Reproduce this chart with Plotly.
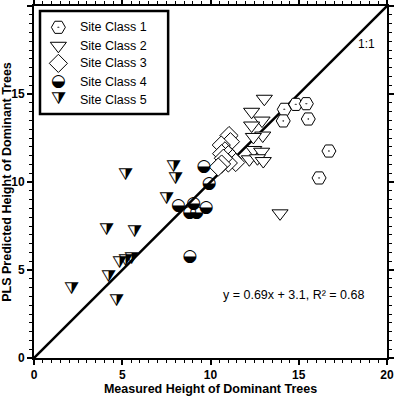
import plotly.graph_objects as go

# ---- data ----
s1_x = [14.18, 14.83, 15.43, 14.12, 15.54, 16.71, 16.15]
s1_y = [14.13, 14.41, 14.45, 13.47, 13.58, 11.76, 10.23]

s2_x = [13.05, 12.33, 12.92, 12.33, 12.96, 12.43, 12.45, 12.90, 12.20, 12.66, 12.99, 13.94]
s2_y = [14.73, 13.99, 13.49, 13.21, 12.64, 12.56, 11.82, 11.72, 11.29, 11.35, 11.19, 8.22]

s3_x = [11.05, 11.13, 10.61, 10.82, 10.63, 11.01, 11.25, 11.43, 11.01, 10.73, 10.63, 10.44]
s3_y = [12.64, 12.29, 12.10, 11.77, 11.61, 11.55, 11.33, 11.11, 11.08, 11.35, 11.02, 10.85]

s4_x = [9.63, 9.92, 8.18, 9.05, 9.76, 8.82, 9.22, 8.84]
s4_y = [10.87, 9.89, 8.66, 8.79, 8.53, 8.25, 8.25, 5.78]

s5_x = [5.16, 4.08, 5.72, 2.14, 4.21, 4.87, 5.16, 5.53, 4.65, 7.93, 7.99, 7.52]
s5_y = [10.34, 7.23, 7.12, 3.86, 4.58, 5.34, 5.47, 5.61, 3.20, 10.83, 10.15, 9.02]

class_names = ["Site Class 1", "Site Class 2", "Site Class 3", "Site Class 4", "Site Class 5"]
one_to_one = [0, 20]
equation_text = "y = 0.69x + 3.1, R² = 0.68"
x_title = "Measured Height of Dominant Trees"
y_title = "PLS Predicted Height of Dominant Trees"

FONT = "Arial, Liberation Sans, sans-serif"
HALF_CIRCLE = "\u25D2"     # circle with lower half black
HALF_TRIANGLE = "\u29E9"   # down-pointing triangle with right half black

fig = go.Figure()

# 1:1 line
fig.add_trace(go.Scatter(x=one_to_one, y=one_to_one, mode="lines",
                         line=dict(color="black", width=2.5), showlegend=False,
                         hoverinfo="skip"))

mk_line = dict(color="black", width=1)
fig.add_trace(go.Scatter(x=s1_x, y=s1_y, mode="markers", name=class_names[0],
                         marker=dict(symbol="hexagon2-dot", size=14, color="white", line=mk_line)))
fig.add_trace(go.Scatter(x=s2_x, y=s2_y, mode="markers", name=class_names[1],
                         marker=dict(symbol="triangle-down", size=14, color="white", line=mk_line)))
fig.add_trace(go.Scatter(x=s3_x, y=s3_y, mode="markers", name=class_names[2],
                         marker=dict(symbol="diamond", size=14, color="white", line=mk_line)))
fig.add_trace(go.Scatter(x=s4_x, y=s4_y, mode="text", name=class_names[3],
                         text=[HALF_CIRCLE] * len(s4_x), textposition="middle center",
                         textfont=dict(family="DejaVu Sans", size=17, color="black")))
fig.add_trace(go.Scatter(x=s5_x, y=s5_y, mode="text", name=class_names[4],
                         text=[HALF_TRIANGLE] * len(s5_x), textposition="middle center",
                         textfont=dict(family="DejaVu Sans", size=17, color="black")))

# ---- custom legend on an overlay axis (0..1 = plot area) ----
leg_rows = [0.9395, 0.887, 0.837, 0.785, 0.733]
leg_sym_x = 0.069
leg_lab_x = 0.1255
for i, (sym, kind) in enumerate([("hexagon2-dot", "m"), ("triangle-down", "m"), ("diamond", "m"),
                                  (HALF_CIRCLE, "t"), (HALF_TRIANGLE, "t")]):
    if kind == "m":
        fig.add_trace(go.Scatter(x=[leg_sym_x], y=[leg_rows[i]], xaxis="x2", yaxis="y2",
                                 mode="markers", showlegend=False, hoverinfo="skip",
                                 marker=dict(symbol=sym, size=14, color="white", line=mk_line)))
    else:
        fig.add_trace(go.Scatter(x=[leg_sym_x], y=[leg_rows[i]], xaxis="x2", yaxis="y2",
                                 mode="text", text=[sym], showlegend=False, hoverinfo="skip",
                                 textposition="middle center",
                                 textfont=dict(family="DejaVu Sans", size=17, color="black")))
    fig.add_annotation(x=leg_lab_x, y=leg_rows[i], xref="x2", yref="y2", text=class_names[i],
                       showarrow=False, xanchor="left", yanchor="middle",
                       font=dict(family=FONT, size=12.5, color="black"))

fig.add_shape(type="rect", xref="x2", yref="y2", x0=0.017, x1=0.38, y0=0.693, y1=0.986,
              line=dict(color="black", width=2.5), fillcolor="rgba(0,0,0,0)", layer="below")

fig.add_annotation(x=18.8, y=3.58, text=equation_text, showarrow=False, xanchor="right",
                   yanchor="middle", font=dict(family=FONT, size=12.5, color="black"))
fig.add_annotation(x=18.84, y=17.84, text="1:1", showarrow=False, xanchor="center",
                   yanchor="middle", font=dict(family=FONT, size=12, color="black"))

axis_common = dict(range=[0, 20], dtick=5, tick0=0, ticks="outside", ticklen=5, tickwidth=1.5,
                   tickcolor="black", showline=True, linewidth=2, linecolor="black",
                   mirror="ticks", showgrid=False, zeroline=False, automargin=False,
                   tickfont=dict(family=FONT, size=12, color="black", weight="bold"),
                   minor=dict(dtick=0.5, ticks="outside", ticklen=3, tickwidth=1, tickcolor="black"))

fig.update_layout(
    width=394, height=397,
    margin=dict(l=34, r=7, t=6, b=39),
    paper_bgcolor="white", plot_bgcolor="white",
    showlegend=False,
    xaxis=dict(**axis_common,
               title=dict(text=x_title, standoff=3,
                          font=dict(family=FONT, size=12.5, color="black", weight="bold"))),
    yaxis=dict(**axis_common,
               title=dict(text=y_title, standoff=0,
                          font=dict(family=FONT, size=12.5, color="black", weight="bold"))),
    xaxis2=dict(range=[0, 1], overlaying="x", visible=False, fixedrange=True),
    yaxis2=dict(range=[0, 1], overlaying="y", visible=False, fixedrange=True),
)

fig.write_html("out.html", config={"displayModeBar": False},
               post_script="document.body.style.margin='0';document.body.style.overflow='hidden';")
